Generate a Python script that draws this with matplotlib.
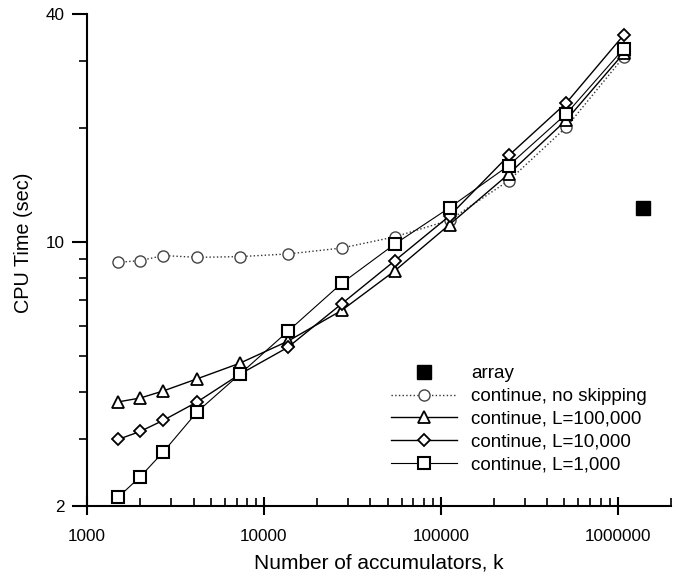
import matplotlib
matplotlib.use('Agg')
import matplotlib.pyplot as plt
from matplotlib.ticker import FixedLocator, FuncFormatter, NullFormatter

# number of accumulators (k) and CPU times
k = [1500, 2000, 2700, 4200, 7300, 13700, 27500, 55000, 112000, 242000, 513000, 1081000]
no_skip = [8.82, 8.91, 9.19, 9.09, 9.13, 9.28, 9.62, 10.3, 11.4, 14.5, 20.1, 30.8]
L100000 = [3.77, 3.86, 4.03, 4.34, 4.77, 5.46, 6.58, 8.38, 11.1, 15.1, 21.0, 31.5]
L10000 = [3.0, 3.15, 3.37, 3.77, 4.46, 5.26, 6.85, 8.91, 11.7, 16.9, 23.3, 35.2]
L1000 = [2.11, 2.39, 2.78, 3.55, 4.46, 5.80, 7.76, 9.86, 12.3, 15.9, 21.8, 32.4]
array_k = [1384000]
array_t = [12.3]

x_major = [1000, 10000, 100000, 1000000]
y_major = [2, 10, 40]

plt.rcParams['font.family'] = ['Liberation Sans', 'DejaVu Sans']

fig = plt.figure(figsize=(6.76, 5.76), dpi=100)
fig.patch.set_facecolor('white')
ax = fig.add_axes([87/676, 70/576, 584/676, 492/576])

ax.plot(array_k, array_t, 's', color='black', ms=10, label='array', zorder=6)
ax.plot(k, no_skip, ':', color='#333333', lw=1.0, marker='o', ms=8,
        mfc='white', mec='#444444', mew=1.0, label='continue, no skipping', zorder=2)
ax.plot(k, L100000, '-', color='black', lw=1.0, marker='^', ms=8,
        mfc='white', mec='black', mew=1.3, label='continue, L=100,000', zorder=3)
ax.plot(k, L10000, '-', color='black', lw=1.0, marker='D', ms=6.5,
        mfc='white', mec='black', mew=1.3, label='continue, L=10,000', zorder=4)
ax.plot(k, L1000, '-', color='black', lw=0.8, marker='s', ms=8.5,
        mfc='white', mec='black', mew=1.5, label='continue, L=1,000', zorder=5)

ax.set_xscale('log')
ax.set_yscale('log')
ax.set_xlim(1000, 2000000)
ax.set_ylim(2, 40)

# ticks
ax.xaxis.set_major_locator(FixedLocator(x_major))
x_minor = [m * d for d in [1000, 10000, 100000, 1000000] for m in range(2, 10) if m * d <= 2000000]
ax.xaxis.set_minor_locator(FixedLocator(x_minor))
ax.xaxis.set_major_formatter(FuncFormatter(lambda v, _: f"{int(v)}"))
ax.xaxis.set_minor_formatter(NullFormatter())
ax.yaxis.set_major_locator(FixedLocator(y_major))
ax.yaxis.set_minor_locator(FixedLocator([3, 4, 5, 6, 7, 8, 9, 20, 30]))
ax.yaxis.set_major_formatter(FuncFormatter(lambda v, _: f"{int(v)}"))
ax.yaxis.set_minor_formatter(NullFormatter())

ax.tick_params(axis='x', which='major', direction='inout', length=13, width=1.5, labelsize=12.3, pad=10)
ax.tick_params(axis='x', which='minor', direction='in', length=6, width=1.2)
ax.tick_params(axis='y', which='major', direction='out', length=11, width=1.5, labelsize=12.3, pad=5)
ax.tick_params(axis='y', which='minor', direction='out', length=5.5, width=1.2)

for side in ['top', 'right']:
    ax.spines[side].set_visible(False)
for side in ['left', 'bottom']:
    ax.spines[side].set_linewidth(1.5)

ax.set_xlabel('Number of accumulators, k', fontsize=15)
ax.set_ylabel('CPU Time (sec)', fontsize=14.3)
ax.xaxis.set_label_coords(0.50, -0.097)
ax.yaxis.set_label_coords(-0.092, 0.535)

leg = ax.legend(loc='upper left', bbox_to_anchor=(0.505, 0.305), frameon=False,
                fontsize=13.5, handlelength=3.5, handletextpad=0.75,
                labelspacing=0.3, borderpad=0.0)

fig.savefig('out.png', dpi=100, facecolor='white')
